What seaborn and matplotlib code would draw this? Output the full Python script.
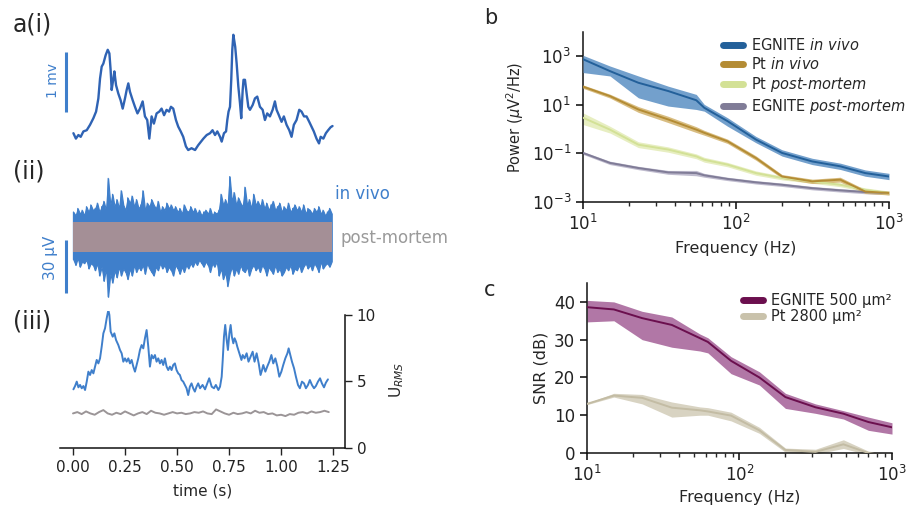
import numpy as np
import matplotlib
matplotlib.use("Agg")
import matplotlib.pyplot as plt
import seaborn as sns
import pandas as pd
from matplotlib.ticker import FixedLocator, NullLocator

sns.set_theme(style="ticks")
plt.rcParams['font.family'] = ['DejaVu Sans']
plt.rcParams['mathtext.fontset'] = 'dejavusans'

# ---------------- data: a(i) LFP trace (s, mV) ----------------
t_lfp = [0.002,0.014,0.026,0.037,0.050,0.066,0.082,0.098,0.111,0.122,0.130,0.138,0.146,0.157,0.167,0.175,0.181,0.186,0.194,0.199,
         0.207,0.218,0.229,0.239,0.250,0.258,0.266,0.274,0.287,0.298,0.310,0.322,0.335,0.346,0.357,0.367,0.378,0.389,0.402,0.415,
         0.426,0.438,0.450,0.462,0.471,0.482,0.495,0.506,0.518,0.530,0.543,0.554,0.570,0.587,0.602,
         0.627,0.643,0.659,0.671,0.683,0.694,0.707,0.715,0.726,0.736,0.742,0.748,0.755,0.761,0.766,0.771,0.776,0.780,0.787,0.795,
         0.803,0.809,0.816,0.820,0.827,0.835,0.843,0.851,0.864,0.875,0.886,0.899,0.912,0.923,0.934,0.947,0.960,0.971,0.979,0.990,
         1.003,1.014,1.027,1.040,1.051,1.062,1.075,1.088,1.099,1.111,1.123,1.136,1.147,1.158,1.171,1.183,1.191,1.204,1.216,1.227,
         1.239,1.248]
v_lfp = [0.28,0.19,0.25,0.22,0.31,0.33,0.42,0.53,0.64,0.86,1.19,1.39,1.44,1.58,1.67,1.61,1.33,1.00,1.19,1.31,
         1.08,0.94,0.83,0.69,0.86,1.00,1.11,0.97,0.83,0.72,0.61,0.69,0.81,0.56,0.50,0.19,0.56,0.44,0.61,0.64,
         0.69,0.58,0.67,0.64,0.72,0.69,0.50,0.39,0.31,0.22,0.06,0.00,0.03,0.00,0.08,
         0.19,0.25,0.28,0.33,0.25,0.31,0.22,0.14,0.28,0.31,0.50,0.64,0.72,1.17,1.67,1.92,1.81,1.72,1.44,1.06,
         0.78,0.53,1.00,1.17,1.17,0.94,0.72,0.67,0.75,0.86,0.89,0.72,0.67,0.50,0.61,0.56,0.67,0.81,0.67,0.58,
         0.47,0.56,0.42,0.33,0.22,0.42,0.50,0.67,0.64,0.56,0.56,0.47,0.39,0.31,0.19,0.11,0.22,0.19,0.28,0.33,
         0.38,0.40]

# ---------------- data: a(ii) high-pass envelopes (uV) ----------------
invivo_up = [14,12,16,13,15,12,17,14,18,15, 16,19,14,17,20,15, 33,18,24, 17,21,16,26,18,15,
             22,19,23,17,21,16, 18,26,15,19,17,21, 18,16,20,14,17,15, 19,16,18,15,17,14,
             16,13,18,15,14,17, 14,16,13,15,12,14, 15,13,16,12,14,13,15, 24,18,21,17,34,
             20,25,18,22,19,17, 28,18,21,16,24,18, 20,17,21,16,19,15, 18,20,15,17,19,14,
             17,15,19,14,16,18, 15,17,14,18,13,16, 15,13,16,14,17,13,15,12,14,16,13]
invivo_low = [13,16,12,17,14,15,13,18,15,16, 19,15,22,17,25,18, 34,21,26, 19,23,17,22,18,20,
              24,18,22,16,20,17, 19,16,21,15,18,20, 22,17,19,15,18,16, 20,17,19,22,16,18,
              21,17,20,16,18,15, 17,14,16,13,15,17, 14,16,20,15,17,14,22, 18,24,20,28,21,
              17,22,18,21,16,19, 20,17,22,18,16,19, 17,20,16,18,22,17, 19,21,16,20,18,22,
              20,17,19,16,21,18, 19,16,20,17,15,18, 16,19,15,17,20,14,18,16,15,17,14]
postmortem_amp = 8.5

# ---------------- data: a(iii) U_RMS ----------------
t_rms = [0.002,0.010,0.018,0.026,0.034,0.042,0.050,0.058,0.066,0.074,0.082,0.090,0.098,0.106,0.114,0.122,0.130,0.138,0.146,0.154,
         0.162,0.170,0.175,0.181,0.191,0.199,0.207,0.218,0.226,0.234,0.242,
         0.250,0.258,0.266,0.274,0.282,0.290,0.298,0.306,0.314,0.322,0.330,0.338,0.346,0.354,0.362,0.370,0.378,0.386,0.394,0.402,
         0.410,0.418,0.426,0.434,0.442,0.450,0.458,0.466,0.474,0.482,0.490,0.498,0.506,0.514,0.522,0.530,0.538,0.546,0.554,0.562,
         0.570,0.578,0.586,0.594,0.602,
         0.611,0.623,0.635,0.646,0.655,0.667,0.678,0.687,0.699,0.707,0.715,0.720,0.726,0.732,0.739,0.745,0.752,0.758,0.764,0.771,
         0.777,0.784,0.790,0.800,0.810,0.816,0.825,0.835,0.844,0.854,0.864,0.873,0.883,0.893,0.902,0.909,0.915,0.925,0.934,0.944,
         0.954,0.963,0.973,0.983,0.992,1.002,1.011,1.021,1.031,1.037,1.043,1.053,1.063,1.072,1.082,1.091,1.101,1.111,1.120,1.130,
         1.139,1.149,1.159,1.168,1.178,1.188,1.197,1.207,1.216,1.226]
u_invivo = [4.41,4.66,4.99,4.56,4.74,4.49,4.66,4.36,4.99,5.74,5.49,5.86,5.61,6.12,6.62,6.36,6.74,7.62,8.62,9.0,
            9.75,10.38,10.0,8.75,8.37,8.62,8.12,7.74,7.37,7.12,6.49,
            6.74,6.49,6.74,6.36,6.62,6.12,5.74,6.24,6.74,7.37,7.74,7.49,8.25,8.87,7.62,6.12,6.99,6.74,6.99,6.49,
            6.74,6.36,6.62,6.24,6.74,6.12,5.86,6.12,5.86,6.24,6.36,5.86,5.61,5.49,5.11,4.99,4.74,4.49,3.98,4.61,
            4.86,4.49,4.24,4.61,4.86,
            4.49,4.74,4.41,4.86,5.24,4.61,4.49,4.74,4.36,4.61,5.36,6.62,8.37,9.25,8.12,7.37,8.62,9.25,8.37,7.87,
            8.25,7.99,7.62,7.12,6.62,6.99,6.74,7.12,6.49,6.87,7.24,6.49,7.12,6.36,5.49,5.86,6.24,5.74,6.12,6.49,
            6.99,6.36,6.74,6.12,5.36,5.74,6.24,6.74,7.12,7.49,7.12,6.49,5.99,5.36,4.74,4.49,4.99,4.86,4.49,4.74,
            5.11,4.74,4.49,4.66,4.99,5.24,4.86,4.56,4.91,5.16]
u_postmortem = [2.6,2.7,2.55,2.75,2.6,2.5,2.7,2.85,2.6,2.5,2.65,2.55,2.75,2.6,2.45,2.6,2.7,2.55,2.8,2.65,
                2.6,2.5,2.6,2.7,2.6,2.65,2.55,2.6,2.7,2.65,2.75,2.6,2.55,2.9,2.75,2.6,2.5,2.65,2.55,2.6,
                2.7,2.6,2.8,2.65,2.7,2.55,2.6,2.45,2.5,2.4,2.55,2.5,2.65,2.7,2.6,2.75,2.65,2.7,2.8,2.7]

# ---------------- data: b PSD (log10 uV^2/Hz) ----------------
freqs = [10, 15, 23, 36, 55, 62, 88, 135, 200, 315, 480, 700, 1000]
egn_vivo = [2.88, 2.39, 1.91, 1.57, 1.19, 0.88, 0.33, -0.43, -0.98, -1.33, -1.53, -1.81, -1.95]
egn_vivo_hi = [3.04, 2.60, 2.19, 1.77, 1.43, 1.02, 0.47, -0.30, -0.85, -1.20, -1.40, -1.68, -1.82]
egn_vivo_lo = [2.33, 2.19, 1.29, 0.95, 0.81, 0.74, 0.12, -0.56, -1.11, -1.46, -1.66, -1.94, -2.08]
pt_vivo = [1.75, 1.36, 0.81, 0.40, -0.02, -0.15, -0.50, -1.19, -1.95, -2.15, -2.08, -2.57, -2.63]
pt_vivo_hi = [1.82, 1.44, 0.93, 0.53, 0.10, -0.05, -0.41, -1.10, -1.87, -2.06, -1.98, -2.49, -2.55]
pt_vivo_lo = [1.68, 1.28, 0.69, 0.27, -0.14, -0.25, -0.59, -1.28, -2.03, -2.24, -2.18, -2.65, -2.71]
pt_pm = [0.47, -0.02, -0.64, -0.84, -1.12, -1.26, -1.46, -1.81, -2.01, -2.15, -2.29, -2.50, -2.63]
pt_pm_hi = [0.67, 0.12, -0.52, -0.73, -1.02, -1.16, -1.37, -1.72, -1.93, -2.07, -2.21, -2.42, -2.55]
pt_pm_lo = [0.19, -0.16, -0.76, -0.95, -1.22, -1.36, -1.55, -1.90, -2.09, -2.23, -2.37, -2.58, -2.71]
egn_pm = [-0.98, -1.39, -1.60, -1.78, -1.81, -1.90, -2.05, -2.19, -2.29, -2.43, -2.52, -2.59, -2.63]
egn_pm_hi = [-0.92, -1.32, -1.53, -1.70, -1.70, -1.82, -1.98, -2.12, -2.22, -2.36, -2.45, -2.52, -2.56]
egn_pm_lo = [-1.04, -1.46, -1.67, -1.86, -1.92, -1.98, -2.12, -2.26, -2.36, -2.50, -2.59, -2.66, -2.70]

# ---------------- data: c SNR (dB) ----------------
snr_egn = [38.6, 38.0, 35.7, 33.9, 30.4, 29.4, 24.4, 20.0, 14.8, 12.1, 10.4, 8.2, 6.8]
snr_egn_hi = [40.4, 40.0, 37.5, 36.0, 31.5, 30.5, 25.5, 21.5, 15.8, 13.0, 11.2, 9.5, 8.0]
snr_egn_lo = [34.7, 35.0, 30.0, 28.0, 27.0, 26.5, 21.0, 18.0, 11.8, 10.5, 9.0, 6.0, 5.0]
snr_pt = [13.0, 15.2, 14.6, 12.0, 11.3, 11.0, 9.9, 6.0, 0.8, 0.3, 2.3, 0.0, -1.0]
snr_pt_hi = [13.2, 15.8, 15.5, 13.5, 12.2, 12.0, 10.8, 6.8, 1.3, 1.0, 3.5, 0.5, -0.5]
snr_pt_lo = [12.8, 14.8, 13.0, 9.5, 10.0, 10.0, 8.5, 5.2, 0.2, -0.3, 1.2, -0.5, -1.5]

# ---------------- figure ----------------
W, H = 912, 511
fig = plt.figure(figsize=(W / 100, H / 100), dpi=100)


def px_axes(l, t, r, b):
    return fig.add_axes([l / W, 1 - b / H, (r - l) / W, (b - t) / H])


XL = (-0.0625, 1.308)
blue_dark = '#2f63b4'
blue = '#3f7fcb'
grey_pm = '#a48f96'

# a(i)
a1 = px_axes(60, 25, 345, 155)
sns.lineplot(x=t_lfp, y=v_lfp, ax=a1, color=blue_dark, lw=1.7, sort=False, estimator=None)
a1.set_xlim(*XL)
a1.set_ylim(-0.083, 2.083)
a1.axis('off')
a1.plot([-0.034, -0.034], [0.64, 1.64], color=blue, lw=2.2, clip_on=False, solid_capstyle='butt')
a1.text(-0.098, 1.15, '1 mv', rotation=90, color=blue, fontsize=10, ha='center', va='center')

# a(ii)
a2 = px_axes(60, 170, 345, 305)
t_noise = np.linspace(0.002, 1.244, len(invivo_up))
up_arr = np.array(invivo_up, float)
low_arr = -np.array(invivo_low, float)
a2.fill_between(t_noise, low_arr, up_arr, color=blue, lw=0.8, edgecolor=blue)
zz_t = np.repeat(t_noise, 2)
zz_v = np.column_stack([up_arr, low_arr]).ravel()
a2.plot(zz_t, zz_v, color=blue, lw=0.8)
a2.fill_between(t_noise, -postmortem_amp, postmortem_amp, color=grey_pm, lw=0, zorder=3)
a2.set_xlim(*XL)
a2.set_ylim(-38.6, 37.7)
a2.axis('off')
a2.plot([-0.034, -0.034], [-32, -2], color=blue, lw=2.2, clip_on=False, solid_capstyle='butt')
a2.text(-0.108, -12, '30 µV', rotation=90, color=blue, fontsize=11, ha='center', va='center')
a2.text(1.262, 24, 'in vivo', color=blue, fontsize=12, ha='left', va='center')
a2.text(1.285, -1, 'post-mortem', color='#9a9a9a', fontsize=12, ha='left', va='center')

# a(iii)
a3 = px_axes(60, 311, 345, 448)
sns.lineplot(x=t_rms, y=u_invivo, ax=a3, color=blue, lw=1.4, sort=False, estimator=None)
t_pm = np.linspace(0.0, 1.23, len(u_postmortem))
sns.lineplot(x=t_pm, y=u_postmortem, ax=a3, color='#9b9597', lw=1.4, sort=False, estimator=None)
a3.set_xlim(*XL)
a3.set_ylim(0, 10.3)
a3.spines['left'].set_visible(False)
a3.spines['top'].set_visible(False)
a3.spines['right'].set_bounds(0, 10)
a3.yaxis.tick_right()
a3.yaxis.set_label_position('right')
a3.set_yticks([0, 5, 10])
a3.set_xticks([0, 0.25, 0.5, 0.75, 1.0, 1.25])
a3.set_xticklabels(['0.00', '0.25', '0.50', '0.75', '1.00', '1.25'])
a3.tick_params(labelsize=11, length=5, width=1, colors='#222222')
a3.set_xlabel('time (s)', fontsize=11, labelpad=6)
a3.set_ylabel('U$_{RMS}$', fontsize=11, labelpad=8)
for s in ['bottom', 'right']:
    a3.spines[s].set_color('#111111')
    a3.spines[s].set_linewidth(1.1)

# b
ab = px_axes(583, 32, 889, 202)
series_b = [
    ('EGNITE $\\it{in\\ vivo}$', egn_vivo, egn_vivo_hi, egn_vivo_lo, '#23609a', '#5b8fc3'),
    ('Pt $\\it{in\\ vivo}$', pt_vivo, pt_vivo_hi, pt_vivo_lo, '#b48c34', '#d2b26c'),
    ('Pt $\\it{post}$-$\\it{mortem}$', pt_pm, pt_pm_hi, pt_pm_lo, '#d3e196', '#e3ebb6'),
    ('EGNITE $\\it{post}$-$\\it{mortem}$', egn_pm, egn_pm_hi, egn_pm_lo, '#807c97', '#b4b0c6'),
]
f_arr = np.array(freqs, float)
for i, (lab, m, hi, lo, lc, fc) in enumerate(series_b[::-1]):
    ab.fill_between(f_arr, 10 ** np.array(lo), 10 ** np.array(hi), color=fc, alpha=0.85, lw=0, zorder=1 + i)
for i, (lab, m, hi, lo, lc, fc) in enumerate(series_b[::-1]):
    sns.lineplot(x=f_arr, y=10 ** np.array(m), ax=ab, color=lc, lw=1.4, sort=False, estimator=None, zorder=5 + i)
ab.set_xscale('log')
ab.set_yscale('log')
ab.set_xlim(10, 1000)
ab.set_ylim(1e-3, 1e4)
ab.yaxis.set_major_locator(FixedLocator([1e-3, 1e-1, 1e1, 1e3]))
ab.yaxis.set_minor_locator(NullLocator())
ab.set_yticklabels(['$10^{-3}$', '$10^{-1}$', '$10^{1}$', '$10^{3}$'])
ab.set_xticks([10, 100, 1000])
ab.set_xticklabels(['$10^{1}$', '$10^{2}$', '$10^{3}$'])
sns.despine(ax=ab)
ab.tick_params(which='major', labelsize=12, length=5, colors='#222222')
ab.tick_params(which='minor', length=3)
ab.set_ylabel('Power ($\\mu$V$^2$/Hz)', fontsize=10.5)
ab.set_xlabel('Frequency (Hz)', fontsize=11.5, labelpad=5)
handles_b = [plt.Line2D([], [], color=s[4], lw=5) for s in series_b]
ab.legend(handles_b, [s[0] for s in series_b], loc='upper left', bbox_to_anchor=(723 / W, 1 - 37 / H),
          bbox_transform=fig.transFigure, frameon=False, fontsize=10.5, handlelength=1.35, handletextpad=0.6,
          labelspacing=0.2, borderpad=0, borderaxespad=0)

# c
ac = px_axes(587, 283, 892, 453)
ac.fill_between(f_arr, snr_pt_lo, snr_pt_hi, color='#d8d3c2', lw=0, zorder=1)
ac.fill_between(f_arr, snr_egn_lo, snr_egn_hi, color='#a45f97', alpha=0.85, lw=0, zorder=2)
sns.lineplot(x=f_arr, y=snr_pt, ax=ac, color='#c3bca4', lw=1.4, sort=False, estimator=None, zorder=3)
sns.lineplot(x=f_arr, y=snr_egn, ax=ac, color='#6b0f4e', lw=1.4, sort=False, estimator=None, zorder=4)
ac.set_xscale('log')
ac.set_xlim(10, 1000)
ac.set_ylim(0, 45)
ac.set_yticks([0, 10, 20, 30, 40])
ac.set_xticks([10, 100, 1000])
ac.set_xticklabels(['$10^{1}$', '$10^{2}$', '$10^{3}$'])
sns.despine(ax=ac)
ac.tick_params(which='major', labelsize=12, length=5, colors='#222222')
ac.tick_params(which='minor', length=3)
ac.set_ylabel('SNR (dB)', fontsize=11.5)
ac.set_xlabel('Frequency (Hz)', fontsize=11.5)
handles_c = [plt.Line2D([], [], color='#6b0f4e', lw=5), plt.Line2D([], [], color='#c9c2ab', lw=5)]
ac.legend(handles_c, ['EGNITE 500 µm²', 'Pt 2800 µm²'], loc='upper left', bbox_to_anchor=(743 / W, 1 - 293 / H),
          bbox_transform=fig.transFigure, frameon=False, fontsize=10.5, handlelength=1.35, handletextpad=0.6,
          labelspacing=0.05, borderpad=0, borderaxespad=0)

for ax in (ab, ac):
    for s in ['bottom', 'left']:
        ax.spines[s].set_color('#111111')
        ax.spines[s].set_linewidth(1.1)

# panel labels
fig.text(13 / W, 1 - 31 / H, 'a(i)', fontsize=17, va='baseline', ha='left')
fig.text(13 / W, 1 - 178 / H, '(ii)', fontsize=17, va='baseline', ha='left')
fig.text(13 / W, 1 - 328 / H, '(iii)', fontsize=17, va='baseline', ha='left')
fig.text(484 / W, 1 - 24 / H, 'b', fontsize=15, va='baseline', ha='left')
fig.text(484 / W, 1 - 296 / H, 'c', fontsize=15, va='baseline', ha='left')

fig.savefig('out.png', dpi=100)
